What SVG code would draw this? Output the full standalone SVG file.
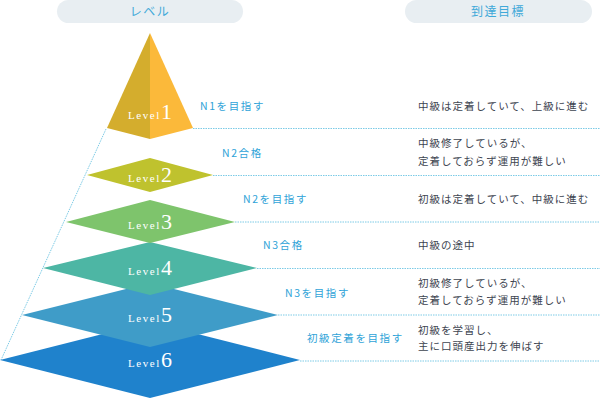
<svg xmlns="http://www.w3.org/2000/svg" width="600" height="400" viewBox="0 0 600 400">
<style>
.pill{fill:#E8EEF2}
.hd{font-family:"Noto Sans CJK JP","Noto Sans",sans-serif;font-size:12px;fill:#3FA9D9;text-anchor:middle;letter-spacing:1.5px}
.guide{stroke:#7CCBE6;stroke-width:1;stroke-dasharray:1.5 1;fill:none}
.lv{font-family:"Liberation Serif","DejaVu Serif",serif;fill:#fff}
.lv .s{font-size:11px;letter-spacing:1.6px}
.lv .d{font-size:22px}
.bl{font-family:"Noto Sans CJK JP","Noto Sans",sans-serif;font-size:10.5px;fill:#2FA3D8;letter-spacing:1.6px}
.gl{font-family:"Noto Sans CJK JP","Noto Sans",sans-serif;font-size:10.5px;fill:#3D4450;letter-spacing:1.0px}
</style>
<g id="header-level"><rect class="pill" x="57" y="0" width="186" height="23" rx="11.5"/><text class="hd" x="150" y="16">レベル</text></g>
<g id="header-goal"><rect class="pill" x="405" y="0" width="187" height="23" rx="11.5"/><text class="hd" x="498" y="16">到達目標</text></g>
<g id="connectors">
<path class="guide" d="M106,129 L1,360"/>
<path class="guide" d="M193,128.5 H600"/>
<path class="guide" d="M213,175.5 H600"/>
<path class="guide" d="M235,222 H600"/>
<path class="guide" d="M257,268.5 H600"/>
<path class="guide" d="M278,315 H600"/>
<path class="guide" d="M300,361 H600"/>
</g>
<g id="level6"><polygon points="150,322 300,360 150,398 0,360" fill="#1F82CC"/><text class="lv" x="150" y="367" text-anchor="middle"><tspan class="s">Level</tspan><tspan class="d">6</tspan></text></g>
<g id="level5"><polygon points="150,283 278,315 150,347 22,315" fill="#3F9CC8"/><text class="lv" x="150" y="322" text-anchor="middle"><tspan class="s">Level</tspan><tspan class="d">5</tspan></text></g>
<g id="level4"><polygon points="150,242 257,268 150,295 43,268" fill="#4DB6A4"/><text class="lv" x="150" y="275" text-anchor="middle"><tspan class="s">Level</tspan><tspan class="d">4</tspan></text></g>
<g id="level3"><polygon points="150,200 235,222 150,243 66,222" fill="#7EC46C"/><text class="lv" x="150" y="229" text-anchor="middle"><tspan class="s">Level</tspan><tspan class="d">3</tspan></text></g>
<g id="level2"><polygon points="150,158 213,175 150,192 87,175" fill="#BFC22E"/><text class="lv" x="150" y="182" text-anchor="middle"><tspan class="s">Level</tspan><tspan class="d">2</tspan></text></g>
<g id="level1"><polygon points="150,33 150,139 107,128" fill="#D4AD2D"/><polygon points="150,33 193,128 150,139" fill="#FBB93A"/><text class="lv" x="150" y="119" text-anchor="middle"><tspan class="s">Level</tspan><tspan class="d">1</tspan></text></g>
<g id="labels">
<text class="bl" x="200" y="110">N1を目指す</text>
<text class="bl" x="222" y="157">N2合格</text>
<text class="bl" x="243" y="203">N2を目指す</text>
<text class="bl" x="263" y="249">N3合格</text>
<text class="bl" x="285" y="297">N3を目指す</text>
<text class="bl" x="307" y="342">初級定着を目指す</text>
</g>
<g id="goals">
<text class="gl" x="418" y="110">中級は定着していて、上級に進む</text>
<text class="gl" x="418" y="147">中級修了しているが、</text>
<text class="gl" x="418" y="165">定着しておらず運用が難しい</text>
<text class="gl" x="418" y="203">初級は定着していて、中級に進む</text>
<text class="gl" x="418" y="249">中級の途中</text>
<text class="gl" x="418" y="287">初級修了しているが、</text>
<text class="gl" x="418" y="304">定着しておらず運用が難しい</text>
<text class="gl" x="418" y="334">初級を学習し、</text>
<text class="gl" x="418" y="350">主に口頭産出力を伸ばす</text>
</g>
</svg>
